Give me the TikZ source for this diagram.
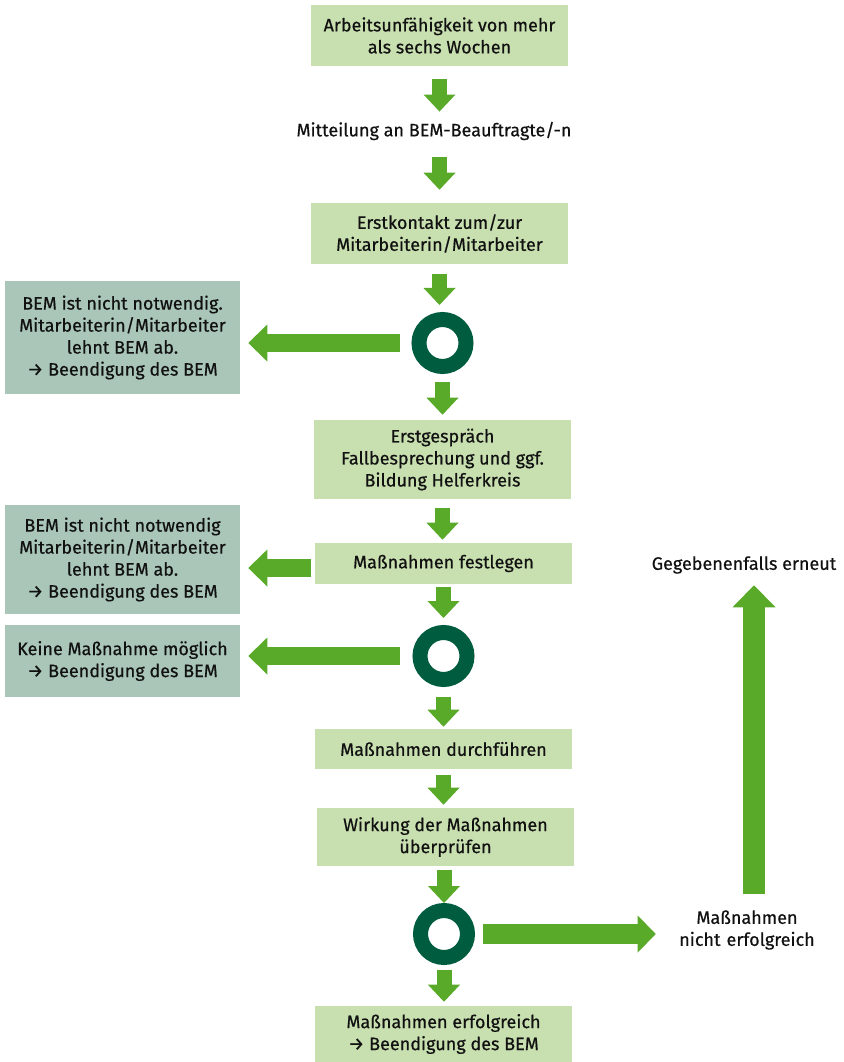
\documentclass[tikz,border=0pt]{standalone}
\usepackage{fontspec}
\setmainfont{Fira Sans}[FakeBold=0.5]
\usetikzlibrary{arrows.meta}

\definecolor{boxgreen}{HTML}{C8DFB0}
\definecolor{boxgrey}{HTML}{A9C6B9}
\definecolor{arrowgreen}{HTML}{5AAA2A}
\definecolor{ringgreen}{HTML}{005C3E}
\definecolor{textblack}{HTML}{111111}

\begin{document}
\begin{tikzpicture}[x=0.75pt,y=-0.75pt,
    font=\fontsize{13.5}{16.5}\selectfont, text=textblack,
    stepbox/.style={fill=boxgreen, align=center, inner sep=0pt, minimum width=192.75pt},
    exitbox/.style={fill=boxgrey, align=center, inner sep=0pt, minimum width=176.25pt},
    plain/.style={align=center, inner sep=0pt},
    ring/.style={circle, draw=ringgreen, line width=11.25pt, minimum size=35.25pt, inner sep=0pt},
    down/.style={draw=arrowgreen, line width=11.25pt, -{Triangle[width=24pt,length=12.75pt,line width=0pt]}},
    sideways/.style={draw=arrowgreen, line width=13pt, -{Triangle[width=27.75pt,length=14.25pt,line width=0pt]}},
    failed/.style={draw=arrowgreen, line width=15pt, -{Triangle[width=27.75pt,length=13.5pt,line width=0pt]}},
    again/.style={draw=arrowgreen, line width=16.5pt, -{Triangle[width=32.25pt,length=16.5pt,line width=0pt]}}
    ]
    \useasboundingbox (0,0) rectangle (843,1062);

    % main column
    \node[stepbox, minimum height=45.75pt] (b1) at (439.5,35.5) {Arbeitsunfähigkeit von mehr\\als sechs Wochen};
    \node[plain, minimum height=13.5pt] (m1) at (434,131) {Mitteilung an BEM-Beauftragte/-n};
    \node[stepbox, minimum height=45.75pt] (b2) at (439.5,233.5) {Erstkontakt zum/zur\\Mitarbeiterin/Mitarbeiter};
    \node[ring] (c1) at (442.5,343) {};
    \node[stepbox, minimum height=59.25pt] (b3) at (442.5,459.5) {Erstgespräch\\Fallbesprechung und ggf.\\Bildung Helferkreis};
    \node[stepbox, minimum height=30.75pt] (b4) at (443.5,563.5) {Maßnahmen festlegen};
    \node[ring] (c2) at (443.5,656) {};
    \node[stepbox, minimum height=30pt] (b5) at (443.5,749) {Maßnahmen durchführen};
    \node[stepbox, minimum height=43.5pt] (b6) at (445.5,837) {Wirkung der Maßnahmen\\überprüfen};
    \node[ring] (c3) at (444,934) {};
    \node[stepbox, minimum height=42pt] (b7) at (443.5,1034) {Maßnahmen erfolgreich\\→ Beendigung des BEM};

    % exits
    \node[exitbox, minimum height=84.75pt] (l1) at (122.5,337.5) {BEM ist nicht notwendig.\\Mitarbeiterin/Mitarbeiter\\lehnt BEM ab.\\→ Beendigung des BEM};
    \node[exitbox, minimum height=81.75pt] (l2) at (122.5,559.5) {BEM ist nicht notwendig\\Mitarbeiterin/Mitarbeiter\\lehnt BEM ab.\\→ Beendigung des BEM};
    \node[exitbox, minimum height=54pt] (l3) at (122.5,661) {Keine Maßnahme möglich\\→ Beendigung des BEM};
    \node[plain, text width=112.5pt, minimum height=33pt] (nm) at (747,930) {Maßnahmen\\nicht erfolgreich};
    \node[plain, minimum height=15pt] (gg) at (744,565) {Gegebenenfalls erneut};

    \draw[down, shorten <=9.75pt, shorten >=7.5pt] (b1.south) -- (b1.south |- m1.north);
    \draw[down, shorten <=12.75pt, shorten >=9.75pt] (b2.north |- m1.south) -- (b2.north);
    \draw[down, shorten <=7.5pt, shorten >=5.25pt] (b2.south) -- (b2.south |- c1.north);
    \draw[down, shorten <=6pt, shorten >=3.75pt] (c1.south) -- (c1.south |- b3.north);
    \draw[down, shorten <=6.75pt, shorten >=2.25pt] (b3.south) -- (b3.south |- b4.north);
    \draw[down, shorten <=2.25pt, shorten >=5.25pt] (b4.south) -- (b4.south |- c2.north);
    \draw[down, shorten <=7.5pt, shorten >=1.5pt] (c2.south) -- (c2.south |- b5.north);
    \draw[down, shorten <=4.5pt, shorten >=2.25pt] (b5.south) -- (b5.south |- b6.north);
    \draw[down, shorten <=3pt] (c3.north |- b6.south) -- (c3.north);
    \draw[down, shorten <=3.75pt, shorten >=3pt] (c3.south) -- (c3.south |- b7.north);

    \draw[sideways, shorten <=8.6pt, shorten >=6pt] (c1.west) -- (c1.west -| l1.east);
    \draw[sideways, shorten <=3pt, shorten >=6pt] ([yshift=-3.4pt]b4.west) -- ([yshift=-3.4pt]b4.west -| l2.east);
    \draw[sideways, shorten <=9.4pt, shorten >=6pt] (c2.west) -- (c2.west -| l3.east);
    \draw[failed, shorten <=6pt, shorten >=12pt] (c3.east) -- (c3.east -| nm.west);
    \draw[again, shorten <=10.5pt, shorten >=7.5pt] ([xshift=5.25pt]nm.north) -- ([xshift=5.25pt]nm.north |- gg.south);
\end{tikzpicture}
\end{document}
